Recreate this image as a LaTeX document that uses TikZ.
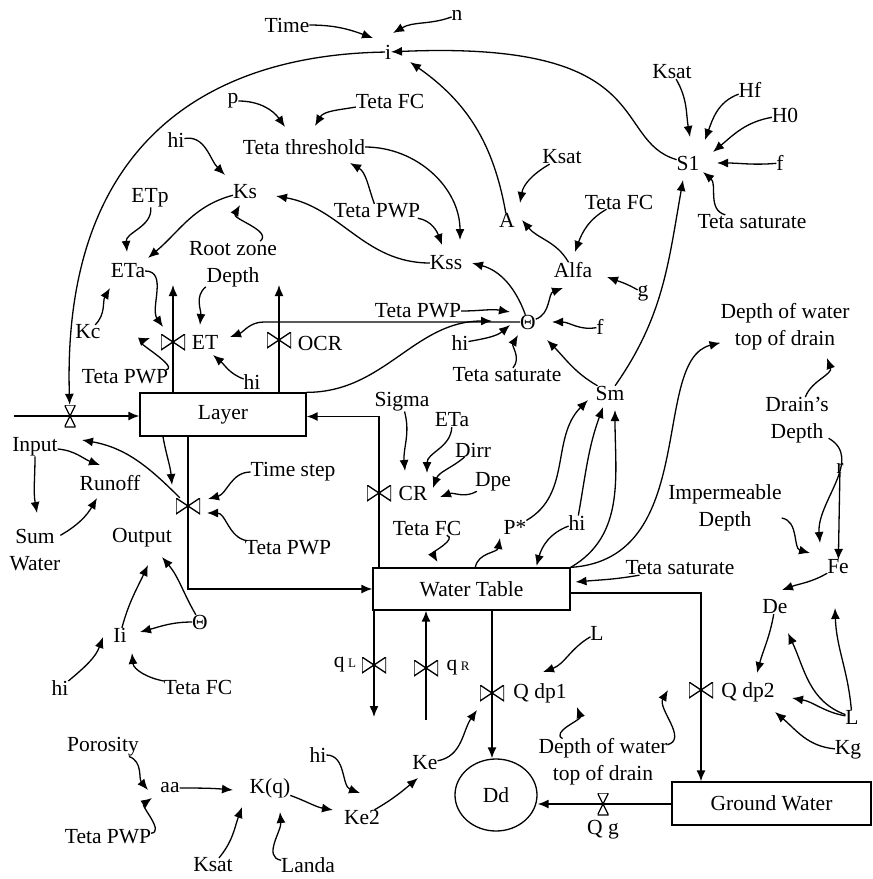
\documentclass[tikz,border=0pt]{standalone}
\usepackage{fontspec}
\setmainfont{Liberation Serif}
\usetikzlibrary{arrows.meta,shapes.geometric}
\newcommand{\dgfont}{\fontsize{21.5}{27}\selectfont}
\begin{document}
\begin{tikzpicture}[x=1pt,y=1pt,
  lbl/.style={font=\dgfont, inner sep=0pt, outer sep=0pt, align=center},
  stock/.style={draw, line width=1.3pt, font=\dgfont, inner sep=0pt},
  inf/.style={line width=1.3pt, -{Latex[length=11pt,width=9pt]}},
  pipea/.style={line width=1.5pt, -{Latex[length=11pt,width=9pt]}},
  hvalve/.style={inner sep=0pt, minimum width=24pt, minimum height=16pt,
    path picture={\draw[line width=1.3pt] (path picture bounding box.south west) -- (path picture bounding box.north east) -- (path picture bounding box.south east) -- (path picture bounding box.north west) -- cycle;}},
  vvalve/.style={inner sep=0pt, minimum width=11pt, minimum height=22pt,
    path picture={\draw[line width=1.3pt] (path picture bounding box.south west) -- (path picture bounding box.north east) -- (path picture bounding box.north west) -- (path picture bounding box.south east) -- cycle;}},
]
\useasboundingbox (0,0) rectangle (873,-879);

% ---- stocks
\node[stock, minimum width=166pt, minimum height=43pt] (layer) at (223,-414.5) {Layer};
\node[stock, minimum width=197pt, minimum height=42pt] (wt) at (471.5,-589) {Water Table};
\node[stock, minimum width=199pt, minimum height=43pt] (gw) at (771.5,-803.5) {Ground Water};
\node[stock, ellipse, minimum width=82pt, minimum height=72pt] (dd) at (496,-795) {Dd};

% ---- valves
\node[vvalve] (vin) at (70,-416) {};
\node[hvalve] (vet) at (173,-342) {};
\node[hvalve] (vocr) at (279,-340) {};
\node[hvalve] (vout) at (188,-506) {};
\node[hvalve] (vcr) at (379,-493) {};
\node[hvalve] (vql) at (374,-665) {};
\node[hvalve] (vqr) at (426,-668) {};
\node[hvalve] (vqone) at (492,-693) {};
\node[hvalve] (vqtwo) at (701,-690) {};
\node[vvalve] (vqg) at (603,-804) {};

% ---- free ends
\coordinate (src) at (14,-416);
\coordinate (etout) at (173,-285);
\coordinate (ocrout) at (279,-285);
\coordinate (qlout) at (374,-717);
\coordinate (qrin) at (426,-720);

% ---- labels / variables
\node[lbl] (time) at (287,-25) {Time};
\node[lbl] (n) at (457,-15) {n};
\node[lbl] (i) at (388,-52) {i};
\node[lbl] (p) at (233,-101) {p};
\node[lbl] (tfcA) at (390,-101) {Teta FC};
\node[lbl] (tthr) at (304,-147) {Teta threshold};
\node[lbl] (hiA) at (176,-140) {hi};
\node[lbl] (ks) at (245,-192) {Ks};
\node[lbl] (etp) at (150,-198) {ETp};
\node[lbl] (etaA) at (128,-271) {ETa};
\node[lbl] (rzd) at (233,-264) {Root zone\\Depth};
\node[lbl] (tpwpA) at (377,-211) {Teta PWP};
\node[lbl] (kss) at (446,-263) {Kss};
\node[lbl] (a) at (507,-220) {A};
\node[lbl] (ksatA) at (562,-157) {Ksat};
\node[lbl] (tfcB) at (619,-202) {Teta FC};
\node[lbl] (alfa) at (573,-270) {Alfa};
\node[lbl] (s1) at (688,-163) {S1};
\node[lbl] (ksatB) at (672,-72) {Ksat};
\node[lbl] (hf) at (750,-90) {Hf};
\node[lbl] (hzero) at (785,-115) {H0};
\node[lbl] (fA) at (780,-163) {f};
\node[lbl] (tsatA) at (752,-222) {Teta saturate};
\node[lbl] (g) at (643,-293) {g};
\node[lbl] (theta) at (528,-322) {Θ};
\node[lbl] (tpwpB) at (418,-311) {Teta PWP};
\node[lbl] (hiB) at (460,-343) {hi};
\node[lbl] (tsatB) at (507,-375) {Teta saturate};
\node[lbl] (fB) at (600,-327) {f};
\node[lbl] (sm) at (610,-393) {Sm};
\node[lbl] (dwtA) at (785,-327) {Depth of water\\top of drain};
\node[lbl] (drd) at (797,-420) {Drain’s\\Depth};
\node[lbl] (r) at (840,-468) {r};
\node[lbl] (imp) at (725,-508) {Impermeable\\Depth};
\node[lbl] (fe) at (838,-567) {Fe};
\node[lbl] (tsatC) at (680,-568) {Teta saturate};
\node[lbl] (de) at (775,-607) {De};
\node[lbl] (lB) at (852,-717) {L};
\node[lbl] (kg) at (848,-750) {Kg};
\node[lbl] (qdptwo) at (748,-692) {Q dp2};
\node[lbl] (qg) at (603,-830) {Q g};
\node[lbl] (dwtB) at (603,-762) {Depth of water\\top of drain};
\node[lbl] (lA) at (597,-633) {L};
\node[lbl] (qdpone) at (540,-693) {Q dp1};
\node[lbl] (ke) at (425,-763) {Ke};
\node[lbl] (ketwo) at (362,-817) {Ke2};
\node[lbl] (hiE) at (318,-755) {hi};
\node[lbl] (kq) at (270,-788) {K(q)};
\node[lbl] (landa) at (308,-865) {Landa};
\node[lbl] (ksatC) at (213,-865) {Ksat};
\node[lbl] (aa) at (170,-788) {aa};
\node[lbl] (poro) at (103,-747) {Porosity};
\node[lbl] (tpwpE) at (108,-837) {Teta PWP};
\node[lbl] (thetaB) at (200,-622) {Θ};
\node[lbl] (ii) at (120,-635) {Ii};
\node[lbl] (hiD) at (60,-688) {hi};
\node[lbl] (tfcD) at (198,-687) {Teta FC};
\node[lbl] (output) at (142,-538) {Output};
\node[lbl] (input) at (35,-447) {Input};
\node[lbl] (runoff) at (110,-483) {Runoff};
\node[lbl] (sumw) at (35,-550) {Sum\\Water};
\node[lbl] (tstep) at (293,-472) {Time step};
\node[lbl] (tpwpC) at (288,-548) {Teta PWP};
\node[lbl] (cr) at (413,-493) {CR};
\node[lbl] (sigma) at (402,-402) {Sigma};
\node[lbl] (etaB) at (452,-420) {ETa};
\node[lbl] (dirr) at (473,-450) {Dirr};
\node[lbl] (dpe) at (493,-482) {Dpe};
\node[lbl] (tfcC) at (427,-528) {Teta FC};
\node[lbl] (pstar) at (515,-527) {P*};
\node[lbl] (hiC) at (577,-523) {hi};
\node[lbl] (et) at (205,-342) {ET};
\node[lbl] (ocr) at (320,-343) {OCR};
\node[lbl] (kc) at (88,-332) {Kc};
\node[lbl] (tpwpD) at (125,-377) {Teta PWP};
\node[lbl] (hiF) at (252,-382) {hi};
\node[lbl] (ql) at (345,-665) {q\,{\fontsize{13}{13}\selectfont L}};
\node[lbl] (qr) at (458,-668) {q\,{\fontsize{13}{13}\selectfont R}};

% ---- flows (pipes)
\draw[pipea] (src) -- (src -| layer.west);
\draw[pipea] (vet |- layer.north) -- (etout);
\draw[pipea] (vocr |- layer.north) -- (ocrout);
\draw[pipea] (vout |- layer.south) -- (vout |- wt.west) -- (wt.west);
\draw[pipea] (vcr |- wt.north) |- ([yshift=-2pt]layer.east);
\draw[pipea] (vql |- wt.south) -- (qlout);
\draw[pipea] (qrin) -- (vqr |- wt.south);
\draw[pipea] (vqone |- wt.south) -- (vqone |- dd.north);
\draw[pipea] ([yshift=-4pt]wt.east) -| (vqtwo |- gw.north);
\draw[pipea] (vqg -| gw.west) -- (vqg -| dd.east);

% ---- influences
\draw[inf] ([shift={(33,3)}]time) to[out=0,in=160] ([shift={(-15,14)}]i);
\draw[inf] ([shift={(-27,2)}]n) to[out=200,in=30] ([shift={(5,19)}]i);
\draw[inf] ([shift={(-15,3)}]i) .. controls +(-173,-6) and +(-1,240) .. ([shift={(-7,26)}]vin);
\draw[inf] ([shift={(19,-2)}]p) to[out=0,in=125] ([shift={(-19,20)}]tthr);
\draw[inf] ([shift={(-45,-1)}]tfcA) to[out=190,in=60] ([shift={(11,21)}]tthr);
\draw[inf] ([shift={(14,-10)}]hiA) to[out=10,in=135] ([shift={(-20,17)}]ks);
\draw[inf] ([shift={(-25,4)}]ks) to[out=195,in=40] ([shift={(20,13)}]etaA);
\draw[inf] ([shift={(-15,-19)}]etp) to[out=-85,in=95] ([shift={(-1,19)}]etaA);
\draw[inf] ([shift={(-11,31)}]rzd) to[out=40,in=-120] ([shift={(-5,-13)}]ks);
\draw[inf] ([shift={(-2,18)}]tpwpA) to[out=110,in=-30] ([shift={(46,-16)}]tthr);
\draw[inf] ([shift={(43,-1)}]tpwpA) to[out=-10,in=110] ([shift={(-4,18)}]kss);
\draw[inf] ([shift={(81,-3)}]tthr) to[out=0,in=90] ([shift={(14,23)}]kss);
\draw[inf] ([shift={(-30,1)}]kss) to[out=180,in=-10] ([shift={(31,-4)}]ks);
\draw[inf] ([shift={(-14,2)}]a) to[out=100,in=-35] ([shift={(22,-10)}]i);
\draw[inf] ([shift={(-20,-15)}]ksatA) to[out=210,in=80] ([shift={(13,17)}]a);
\draw[inf] ([shift={(-30,10)}]alfa) to[out=120,in=-50] ([shift={(15,0)}]a);
\draw[inf] ([shift={(-24,-18)}]tfcB) to[out=210,in=70] ([shift={(2,18)}]alfa);
\draw[inf] ([shift={(-28,8)}]s1) .. controls +(-50,15) and +(250,8) .. ([shift={(22,4)}]i);
\draw[inf] ([shift={(3,-16)}]ksatB) to[out=-60,in=100] ([shift={(2,26)}]s1);
\draw[inf] ([shift={(-22,-10)}]hf) to[out=200,in=70] ([shift={(17,23)}]s1);
\draw[inf] ([shift={(-33,-8)}]hzero) to[out=190,in=40] ([shift={(25,11)}]s1);
\draw[inf] ([shift={(-17,5)}]fA) to[out=185,in=0] ([shift={(29,0)}]s1);
\draw[inf] ([shift={(8,15)}]tsatA) to[out=165,in=-40] ([shift={(15,-9)}]s1);
\draw[inf] ([shift={(17,16)}]sm) to[out=55,in=-100] ([shift={(-5,-17)}]s1);
\draw[inf] ([shift={(-15,1)}]g) to[out=150,in=-20] ([shift={(34,-7)}]alfa);
\draw[inf] ([shift={(-11,18)}]theta) to[out=110,in=-15] ([shift={(26,0)}]kss);
\draw[inf] ([shift={(3,15)}]theta) to[out=20,in=200] ([shift={(-10,-18)}]alfa);
\draw[inf] ([shift={(49,4)}]tpwpB) to[out=0,in=170] ([shift={(-18,10)}]theta);
\draw[inf] ([shift={(20,0)}]hiB) to[out=10,in=220] ([shift={(-18,-3)}]theta);
\draw[inf] ([shift={(-12,12)}]tsatB) to[out=50,in=240] ([shift={(-10,-13)}]theta);
\draw[inf] ([shift={(-12,10)}]fB) to[out=190,in=0] ([shift={(24,0)}]theta);
\draw[inf] ([shift={(-17,8)}]sm) to[out=150,in=-45] ([shift={(19,-18)}]theta);
\draw[inf] ([shift={(-38,1)}]theta) -- ++(-226,-1) to[out=180,in=20] ([shift={(25,5)}]et);
\draw[inf] (layer.north east) to[out=0,in=180] ([shift={(-36,1)}]theta);
\draw[inf] ([shift={(2,-21)}]etaA) to[out=0,in=125] ([shift={(-10,15)}]vet);
\draw[inf] ([shift={(7,19)}]kc) to[out=45,in=-120] ([shift={(-18,-17)}]etaA);
\draw[inf] ([shift={(-20,-26)}]rzd) to[out=220,in=85] ([shift={(-5,17)}]et);
\draw[inf] ([shift={(-8,20)}]tpwpD) to[out=10,in=200] ([shift={(-23,4)}]vet);
\draw[inf] ([shift={(-17,10)}]hiF) to[out=160,in=-40] ([shift={(8,-13)}]et);
\draw[inf] ([xshift=-60pt]layer.south) to[out=-80,in=95] ([shift={(-16,21)}]vout);
\draw[inf] ([shift={(-36,-11)}]tstep) to[out=180,in=15] ([shift={(20,7)}]vout);
\draw[inf] ([shift={(-18,16)}]tpwpC) to[out=170,in=0] ([shift={(19,-7)}]vout);
\draw[inf] ([shift={(-16,-4)}]vout) to[out=135,in=-10] ([shift={(47,7)}]input);
\draw[inf] ([shift={(32,4)}]input) to[out=-5,in=160] ([shift={(-10,18)}]runoff);
\draw[inf] ([shift={(-3,-21)}]input) to[out=-90,in=100] ([shift={(2,37)}]sumw);
\draw[inf] ([shift={(33,2)}]sumw) to[out=30,in=-120] ([shift={(-13,-15)}]runoff);
\draw[inf] ([shift={(7,23)}]ii) to[out=75,in=-115] ([shift={(6,-27)}]output);
\draw[inf] ([shift={(-3,17)}]thetaB) to[out=120,in=-50] ([shift={(20,-19)}]output);
\draw[inf] ([shift={(-18,0)}]thetaB) to[out=180,in=15] ([shift={(20,3)}]ii);
\draw[inf] ([shift={(20,3)}]hiD) to[out=40,in=-110] ([shift={(-17,-2)}]ii);
\draw[inf] ([shift={(-45,0)}]tfcD) to[out=170,in=-85] ([shift={(12,-18)}]ii);
\draw[inf] ([shift={(20,-6)}]poro) to[out=-20,in=130] ([shift={(-22,-2)}]aa);
\draw[inf] ([shift={(2,15)}]tpwpE) to[out=5,in=215] ([shift={(-18,-10)}]aa);
\draw[inf] ([shift={(22,6)}]aa) to[out=0,in=175] ([shift={(-37,-2)}]kq);
\draw[inf] ([shift={(5,12)}]ksatC) to[out=50,in=-110] ([shift={(-28,-19)}]kq);
\draw[inf] ([shift={(0,12)}]landa) to[out=170,in=-85] ([shift={(10,-24)}]kq);
\draw[inf] ([shift={(32,0)}]kq) to[out=-20,in=170] ([shift={(-29,7)}]ketwo);
\draw[inf] ([shift={(10,-17)}]hiE) to[out=0,in=160] ([shift={(-2,24)}]ketwo);
\draw[inf] ([shift={(26,2)}]ketwo) to[out=30,in=-140] ([shift={(-7,-15)}]ke);
\draw[inf] ([shift={(12,11)}]ke) to[out=10,in=-125] ([shift={(-15,-17)}]vqone);
\draw[inf] ([shift={(-19,1)}]lA) to[out=210,in=20] ([shift={(3,21)}]qdpone);
\draw[inf] ([shift={(-10,35)}]dwtB) to[out=150,in=-70] ([shift={(37,-14)}]qdpone);
\draw[inf] ([shift={(27,29)}]dwtB) to[out=15,in=-120] ([shift={(-33,0)}]vqtwo);
\draw[inf] ([shift={(-5,-18)}]de) to[out=-100,in=75] ([shift={(9,19)}]qdptwo);
\draw[inf] ([shift={(-14,20)}]lB) to[out=160,in=-65] ([shift={(13,-26)}]de);
\draw[inf] ([shift={(-7,22)}]lB) to[out=95,in=-88] ([shift={(-3,-41)}]fe);
\draw[inf] ([shift={(-17,10)}]lB) to[out=170,in=-10] ([shift={(44,-6)}]qdptwo);
\draw[inf] ([shift={(-30,8)}]kg) to[out=175,in=-40] ([shift={(27,-20)}]qdptwo);
\draw[inf] ([shift={(-26,-1)}]fe) to[out=210,in=20] ([shift={(7,17)}]de);
\draw[inf] ([shift={(28,-5)}]imp) to[out=-10,in=165] ([shift={(-28,14)}]fe);
\draw[inf] ([shift={(-10,-32)}]drd) to[out=-30,in=95] ([shift={(-18,24)}]fe);
\draw[inf] ([shift={(2,-20)}]r) -- ([shift={(4,24)}]fe);
\draw[inf] ([shift={(36,-3)}]drd) to[out=70,in=-70] ([shift={(42,-31)}]dwtA);
\draw[inf] (wt.north east) .. controls +(130,8) and +(-67,-18) .. ([shift={(-68,-15)}]dwtA);
\draw[inf] (wt.north east) to[out=30,in=-90] ([shift={(5,-17)}]sm);
\draw[inf] ([shift={(5,28)}]hiC) to[out=80,in=-110] ([shift={(-7,-14)}]sm);
\draw[inf] ([shift={(10,25)}]pstar) to[out=30,in=-135] ([shift={(-22,-7)}]sm);
\draw[inf] ([shift={(21,21)}]wt) to[out=80,in=-100] ([shift={(-15,-11)}]pstar);
\draw[inf] ([shift={(-17,-10)}]hiC) to[out=200,in=75] ([shift={(65,23)}]wt);
\draw[inf] ([shift={(-10,-14)}]tfcC) to[out=-20,in=120] ([shift={(-34,27)}]wt);
\draw[inf] ([shift={(-60,-2)}]tsatC) to[out=190,in=5] ([shift={(104,7)}]wt);
\draw[inf] ([shift={(-5,-21)}]sigma) to[out=-75,in=95] ([shift={(-8,22)}]cr);
\draw[inf] ([shift={(-22,-17)}]etaB) to[out=-92,in=90] ([shift={(14,20)}]cr);
\draw[inf] ([shift={(-25,-13)}]dirr) to[out=220,in=70] ([shift={(20,5)}]cr);
\draw[inf] ([shift={(-28,2)}]dpe) to[out=210,in=20] ([shift={(27,-4)}]cr);
\end{tikzpicture}
\end{document}
